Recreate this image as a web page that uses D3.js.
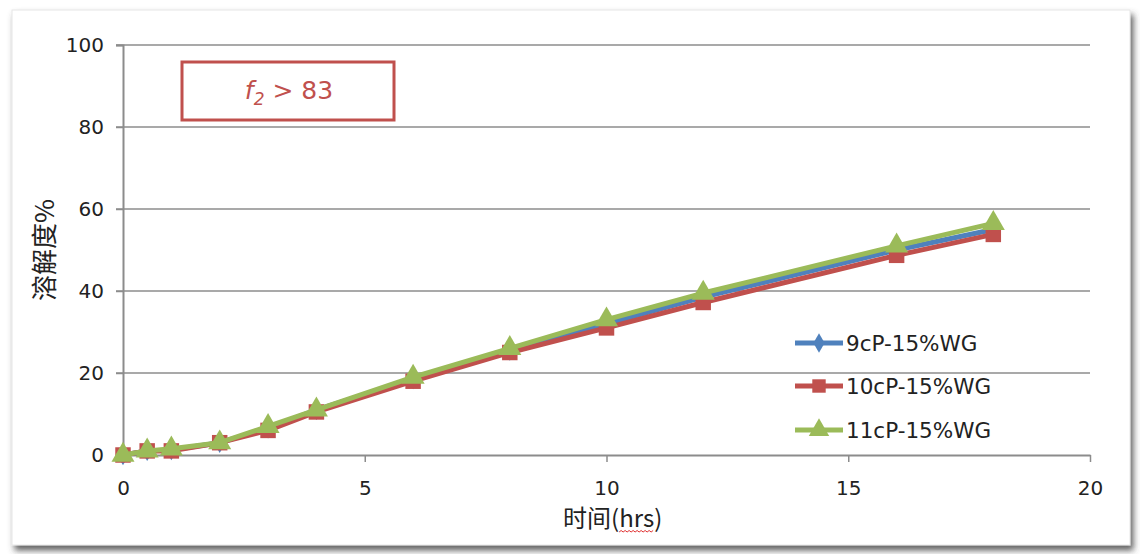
<!DOCTYPE html>
<html><head><meta charset="utf-8">
<script src="https://cdn.jsdelivr.net/npm/d3@7"></script>
<style>body{margin:0;background:#fff;}svg{display:block;font-family:Verdana,"DejaVu Sans",sans-serif;}</style>
</head><body>
<svg id="c" width="1140" height="554"></svg>
<script>
const times = [0, 0.5, 1, 2, 3, 4, 6, 8, 10, 12, 16, 18];
const s9  = [0, 1, 1.2, 3, 6.5, 11, 18.5, 25.5, 32, 38.5, 50, 55];
const s10 = [0, 1, 1, 3, 6, 10.5, 18, 25, 31, 37.2, 48.7, 53.8];
const s11 = [0, 1, 1.5, 3, 7, 11, 19, 26, 33, 39.5, 51, 56.5];
const seriesNames = ["9cP-15%WG", "10cP-15%WG", "11cP-15%WG"];
const xTicks = [0, 5, 10, 15, 20];
const yTicks = [0, 20, 40, 60, 80, 100];
const colors = ["#4f81bd", "#c0504d", "#9bbb59"];
const shapes = [d3.symbolDiamond, d3.symbolSquare, d3.symbolTriangle];
const sizes = [120, 240, 230];

const svg = d3.select("#c");
const defs = svg.append("defs");
const f = defs.append("filter").attr("id","sh").attr("x","-5%").attr("y","-5%").attr("width","110%").attr("height","115%");
f.append("feDropShadow").attr("dx",3).attr("dy",5).attr("stdDeviation",3).attr("flood-color","#444").attr("flood-opacity",0.85);
svg.append("rect").attr("x",12).attr("y",10).attr("width",1118).attr("height",535).attr("fill","#fff").attr("stroke","#e6e6e6").attr("filter","url(#sh)");

const x = d3.scaleLinear().domain([0,20]).range([123,1090]);
const y = d3.scaleLinear().domain([0,100]).range([455,45]);

// gridlines
svg.append("g").selectAll("line").data(yTicks.slice(1)).join("line")
  .attr("x1",116).attr("x2",1090).attr("y1",d=>y(d)).attr("y2",d=>y(d))
  .attr("stroke","#8c8c8c").attr("stroke-width",1.5);

// y axis
const ya = svg.append("g").attr("transform","translate(123,0)")
  .call(d3.axisLeft(y).tickValues(yTicks).tickSize(7).tickPadding(12));
ya.select(".domain").attr("stroke","#8c8c8c").attr("stroke-width",2);
ya.selectAll(".tick line").attr("stroke","#8c8c8c").attr("stroke-width",1.5);
ya.selectAll("text").attr("font-size",20).attr("fill","#222").attr("font-family","Verdana,'DejaVu Sans',sans-serif");

// x axis
const xa = svg.append("g").attr("transform","translate(0,455)")
  .call(d3.axisBottom(x).tickValues(xTicks).tickSize(7).tickPadding(19).tickSizeOuter(0));
xa.select(".domain").attr("stroke","#8c8c8c").attr("stroke-width",2);
xa.selectAll(".tick line").attr("stroke","#8c8c8c").attr("stroke-width",1.5);
xa.selectAll("text").attr("font-size",20).attr("fill","#222").attr("font-family","Verdana,'DejaVu Sans',sans-serif");

// titles
const xt = svg.append("text").attr("x",563).attr("y",527).attr("font-size",24).attr("fill","#222")
  .attr("font-family","'Noto Sans CJK SC',sans-serif");
xt.append("tspan").text("时间(");
const hrs = xt.append("tspan").text("hrs");
xt.append("tspan").text(")");
// spell-check wavy underline under "hrs"
const hb = hrs.node().getBBox ? null : null;
(function(){
  const txtNode = xt.node();
  const start = txtNode.getStartPositionOfChar(3).x;
  const end = txtNode.getEndPositionOfChar(5).x;
  let d = `M${start},532`;
  let up = true;
  for (let xx = start + 2; xx <= end; xx += 2) { d += ` L${xx},${up?530.5:532}`; up = !up; }
  svg.append("path").attr("d",d).attr("fill","none").attr("stroke","#e03030").attr("stroke-width",1);
})();
svg.append("text").attr("transform","translate(54,250) rotate(-90)").attr("text-anchor","middle").attr("font-size",26).attr("fill","#222")
  .attr("font-family","'Noto Sans CJK SC',sans-serif").text("溶解度%");

// series
const allSeries = [s9, s10, s11];
const line = d3.line().x((d,i)=>x(times[i])).y(d=>y(d));
allSeries.forEach((s,k)=>{
  const g = svg.append("g");
  g.append("path").datum(s).attr("d",line).attr("fill","none").attr("stroke",colors[k]).attr("stroke-width",5).attr("stroke-linejoin","round");
  g.selectAll("path.m").data(s).join("path").attr("class","m")
    .attr("transform",(d,i)=>`translate(${x(times[i])},${y(d)})`)
    .attr("d",d3.symbol().type(shapes[k]).size(sizes[k]))
    .attr("fill",colors[k]);
});

// legend
const legY = [343, 386, 430];
seriesNames.forEach((n,k)=>{
  const g = svg.append("g");
  g.append("line").attr("x1",795).attr("x2",843).attr("y1",legY[k]).attr("y2",legY[k]).attr("stroke",colors[k]).attr("stroke-width",5);
  g.append("path").attr("transform",`translate(819,${legY[k]})`).attr("d",d3.symbol().type(shapes[k]).size(k===0?110:180)).attr("fill",colors[k]);
  g.append("text").attr("x",846).attr("y",legY[k]+8).attr("font-size",21.5).attr("fill","#222").text(n);
});

// annotation box
svg.append("rect").attr("x",182).attr("y",62).attr("width",212).attr("height",58).attr("fill","#fff").attr("stroke","#c0504d").attr("stroke-width",3);
const t = svg.append("text").attr("x",289).attr("y",99).attr("text-anchor","middle").attr("font-size",25).attr("fill","#c0504d");
t.append("tspan").attr("font-style","italic").text("f");
t.append("tspan").attr("font-style","italic").attr("font-size",17).attr("dy",6).text("2");
t.append("tspan").attr("dy",-6).text(" > 83");
</script>
</body></html>
